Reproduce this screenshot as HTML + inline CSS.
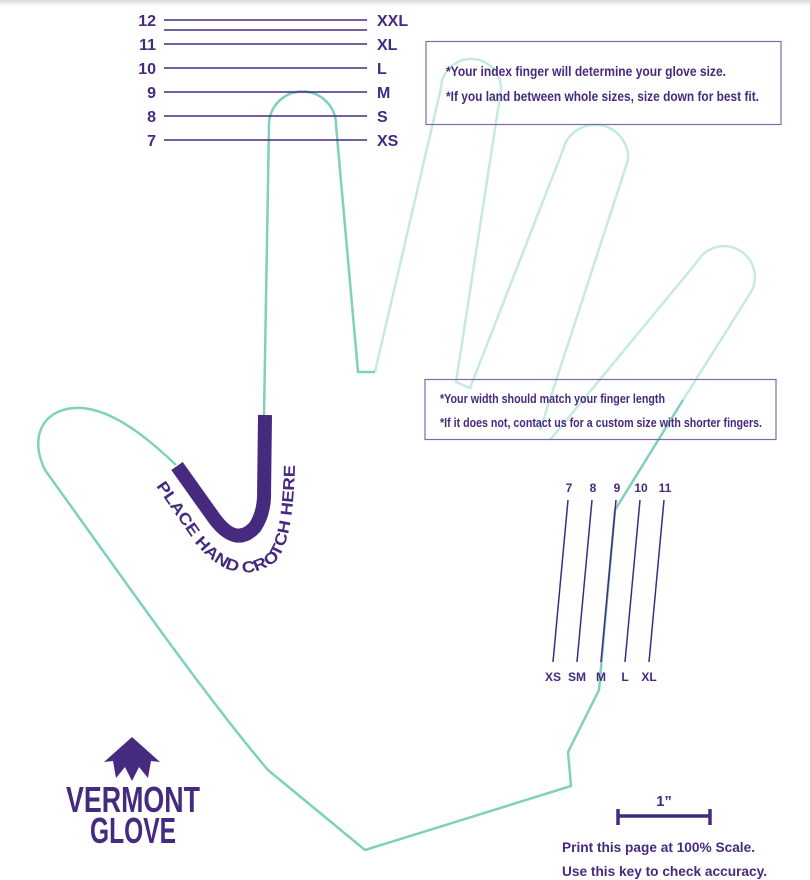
<!DOCTYPE html>
<html><head><meta charset="utf-8"><style>
html,body{margin:0;padding:0;background:#fff;}
body{width:810px;height:880px;overflow:hidden;position:relative;font-family:"Liberation Sans",sans-serif;}
</style></head><body>
<svg width="810" height="880" viewBox="0 0 810 880" xmlns="http://www.w3.org/2000/svg" style="position:absolute;left:0;top:0">
<defs><linearGradient id="sh" x1="0" y1="0" x2="0" y2="1"><stop offset="0" stop-color="#d8d8d8"/><stop offset="1" stop-color="#fff"/></linearGradient></defs>
<rect x="0" y="0" width="810" height="6" fill="url(#sh)"/>
<!-- light fingers -->
<g fill="none" stroke="#c6eadf" stroke-width="2.5" stroke-linejoin="round">
<path d="M375,372 L441,88 A30,30 0 0 1 501,90 L456,382 L470,388 L563,150 A33,33 0 0 1 628,160 L540,430"/>
<path d="M550,440 L697,262 A29,29 0 0 1 751,292 L683,400"/>
</g>
<!-- main outline -->
<g fill="none" stroke="#7fd1ba" stroke-width="2.5" stroke-linejoin="round">
<path d="M264,415 L269,125 A33,33 0 0 1 336,125 L358,372 L375,372"/>
<path d="M683,400 L615,510 L599,690 L568,752 L571,786 L365,850 L268,770 C200,690 110,560 45,470 C30,440 40,410 75,408 C110,406 150,440 176,465"/>
</g>
<!-- purple U -->
<path d="M177,466 L214,518 Q236,548 255,527 Q263,515 264,498 L265,415" fill="none" stroke="#452a80" stroke-width="14"/>
<path id="tp" d="M156,486 L196,544 Q235,590 275,562 Q295,542 295,452" fill="none"/>
<text font-family="'Liberation Sans',sans-serif" font-weight="bold" font-size="16" fill="#452a80"><textPath href="#tp" textLength="262" lengthAdjust="spacingAndGlyphs">PLACE HAND CROTCH HERE</textPath></text>
<!-- left scale -->
<g stroke="#452a80" stroke-width="1.5">
<line x1="164" y1="20" x2="367" y2="20"/><line x1="164" y1="30" x2="367" y2="30"/>
<line x1="164" y1="44" x2="367" y2="44"/><line x1="164" y1="68" x2="367" y2="68"/>
<line x1="164" y1="92" x2="367" y2="92"/><line x1="164" y1="116" x2="367" y2="116"/>
<line x1="164" y1="140" x2="367" y2="140"/>
</g>
<g font-family="'Liberation Sans',sans-serif" font-weight="bold" font-size="16" fill="#452a80">
<g text-anchor="end">
<text x="156" y="26">12</text><text x="156" y="50">11</text><text x="156" y="74">10</text>
<text x="156" y="98">9</text><text x="156" y="122">8</text><text x="156" y="146">7</text>
</g>
<text x="377" y="26">XXL</text><text x="377" y="50">XL</text><text x="377" y="74">L</text>
<text x="377" y="98">M</text><text x="377" y="122">S</text><text x="377" y="146">XS</text>
</g>
<!-- boxes -->
<rect x="426" y="41.5" width="355" height="83" fill="none" stroke="#7d6cab" stroke-width="1.2"/>
<g font-family="'Liberation Sans Narrow','Liberation Sans',sans-serif" font-size="14" font-weight="bold" fill="#452a80">
<text x="446" y="76" textLength="280" lengthAdjust="spacingAndGlyphs">*Your index finger will determine your glove size.</text>
<text x="446" y="101" textLength="313" lengthAdjust="spacingAndGlyphs">*If you land between whole sizes, size down for best fit.</text>
</g>
<rect x="425" y="379.5" width="351" height="60" fill="none" stroke="#7d6cab" stroke-width="1.2"/>
<g font-family="'Liberation Sans Narrow','Liberation Sans',sans-serif" font-size="13" font-weight="bold" fill="#452a80">
<text x="440" y="403" textLength="225" lengthAdjust="spacingAndGlyphs">*Your width should match your finger length</text>
<text x="440" y="427" textLength="322" lengthAdjust="spacingAndGlyphs">*If it does not, contact us for a custom size with shorter fingers.</text>
</g>
<!-- width scale -->
<g stroke="#452a80" stroke-width="1.5">
<line x1="568" y1="500" x2="553" y2="662"/><line x1="592" y1="500" x2="577" y2="662"/>
<line x1="616" y1="500" x2="601" y2="662"/><line x1="640" y1="500" x2="625" y2="662"/>
<line x1="664" y1="500" x2="649" y2="662"/>
</g>
<g font-family="'Liberation Sans',sans-serif" font-weight="bold" font-size="12" fill="#452a80" text-anchor="middle">
<text x="569" y="492">7</text><text x="593" y="492">8</text><text x="617" y="492">9</text><text x="641" y="492">10</text><text x="665" y="492">11</text>
<text x="553" y="681">XS</text><text x="577" y="681">SM</text><text x="601" y="681">M</text><text x="625" y="681">L</text><text x="649" y="681">XL</text>
</g>
<!-- 1 inch key -->
<g stroke="#452a80" stroke-width="3.5"><line x1="618" y1="816" x2="710" y2="816"/><line x1="618" y1="809" x2="618" y2="825"/><line x1="710" y1="809" x2="710" y2="825"/></g>
<g font-family="'Liberation Sans',sans-serif" font-weight="bold" fill="#452a80">
<text x="664" y="806" font-size="15" text-anchor="middle">1”</text>
<text x="562" y="852" font-size="14" textLength="193" lengthAdjust="spacingAndGlyphs">Print this page at 100% Scale.</text>
<text x="562" y="876" font-size="14" textLength="205" lengthAdjust="spacingAndGlyphs">Use this key to check accuracy.</text>
</g>
<!-- logo -->
<polygon points="132,737 160,762 151,761 148,778 139,767 132,781 125,767 116,778 113,761 104,762" fill="#452a80"/>
<g font-family="'Liberation Sans Narrow','Liberation Sans',sans-serif" font-weight="bold" fill="#452a80" text-anchor="middle">
<text x="133" y="812" font-size="36" textLength="134" lengthAdjust="spacingAndGlyphs">VERMONT</text>
<text x="133" y="843" font-size="36" textLength="86" lengthAdjust="spacingAndGlyphs">GLOVE</text>
</g>
</svg>
</body></html>
